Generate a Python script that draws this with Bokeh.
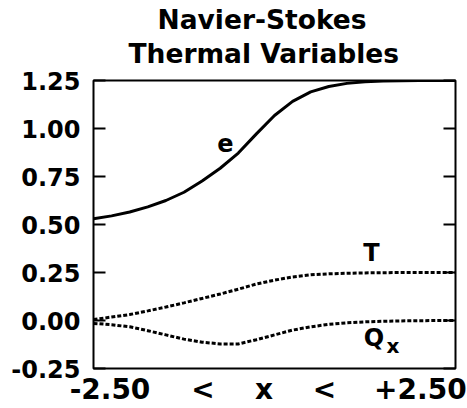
from bokeh.plotting import figure
from bokeh.models import (FixedTicker, NumeralTickFormatter, LinearAxis, Title, Range1d,
                          CustomJSTickFormatter)
from bokeh.core.properties import value
from bokeh.embed import file_html
from bokeh.resources import INLINE

# ---- data ----
xs = [-2.5, -2.25, -2.0, -1.75, -1.5, -1.25, -1.0, -0.75, -0.5, -0.25, 0.0,
      0.25, 0.5, 0.75, 1.0, 1.25, 1.5, 1.75, 2.0, 2.25, 2.5]
e_vals = [0.530, 0.545, 0.565, 0.592, 0.625, 0.668, 0.727, 0.793, 0.872, 0.972, 1.068,
          1.141, 1.191, 1.219, 1.235, 1.243, 1.247, 1.249, 1.250, 1.250, 1.250]
T_vals = [0.005, 0.018, 0.031, 0.050, 0.070, 0.092, 0.115, 0.138, 0.163, 0.190, 0.210,
          0.227, 0.238, 0.243, 0.246, 0.248, 0.249, 0.250, 0.250, 0.250, 0.250]
Qx_vals = [-0.015, -0.022, -0.033, -0.053, -0.075, -0.097, -0.113, -0.122, -0.122, -0.100, -0.075,
           -0.050, -0.033, -0.020, -0.012, -0.007, -0.004, -0.002, -0.001, 0.0, 0.0]

y_ticks = [-0.25, 0.0, 0.25, 0.5, 0.75, 1.0, 1.25]
x_label_text = ["-2.50", "<", "x", "<", "+2.50"]
x_label_pos = [-2.272, -0.988, -0.145, 0.691, 2.015]

title_lines = ["Navier-Stokes", "Thermal Variables"]

curve_label_text = ["e", "T", "Q"]
curve_label_x = [-0.677, 1.34, 1.374]
curve_label_y = [0.923, 0.350, -0.089]
sub_label_text = ["x"]
sub_label_x = [1.637]
sub_label_y = [-0.132]

FONT = "DejaVu Sans"

p = figure(width=467, height=408, output_backend="svg", toolbar_location=None,
           x_range=Range1d(-2.5, 2.5), y_range=Range1d(-0.25, 1.25),
           x_axis_location="below", y_axis_location="left")
p.min_border_left = 93
p.min_border_right = 12
p.min_border_top = 80
p.min_border_bottom = 39
p.background_fill_color = "white"
p.border_fill_color = "white"
p.outline_line_color = "black"
p.outline_line_width = 2
p.xgrid.visible = False
p.ygrid.visible = False

# title: two lines, nearest line added first
p.title = None
p.add_layout(Title(text=title_lines[1], align="left", text_font=FONT,
                   text_font_size="26.5px", text_font_style="bold", text_color="black",
                   standoff=24, offset=35), "above")
p.add_layout(Title(text=title_lines[0], align="left", text_font=FONT,
                   text_font_size="26.5px", text_font_style="bold", text_color="black",
                   standoff=-23, offset=64), "above")

# left axis with labels and inward ticks
ya = p.yaxis[0]
ya.ticker = FixedTicker(ticks=y_ticks)
ya.formatter = NumeralTickFormatter(format="0.00")
ya.major_tick_in = 12
ya.major_tick_out = 0
ya.major_tick_line_width = 2
ya.minor_tick_line_color = None
ya.axis_line_color = None
ya.major_label_standoff = 13
ya.major_label_text_font = FONT
ya.major_label_text_font_size = "24px"
ya.major_label_text_font_style = "bold"
ya.major_label_text_color = "black"

# right axis: inward ticks only
ra = LinearAxis(ticker=FixedTicker(ticks=y_ticks),
                formatter=CustomJSTickFormatter(code="return ''"))
ra.major_tick_in = 12
ra.major_tick_out = 0
ra.major_tick_line_width = 2
ra.minor_tick_line_color = None
ra.axis_line_color = None
ra.major_label_standoff = 0
p.add_layout(ra, "right")

# bottom axis: range text only
xa = p.xaxis[0]
xa.ticker = FixedTicker(ticks=x_label_pos)
xa.major_label_overrides = {pos: txt for pos, txt in zip(x_label_pos, x_label_text)}
xa.major_tick_line_color = None
xa.minor_tick_line_color = None
xa.axis_line_color = None
xa.major_tick_in = 0
xa.major_tick_out = 0
xa.major_label_standoff = 4
xa.major_label_text_font = FONT
xa.major_label_text_font_size = "28px"
xa.major_label_text_font_style = "bold"
xa.major_label_text_color = "black"

# curves
p.line(xs, e_vals, line_color="black", line_width=3)
p.line(xs, T_vals, line_color="black", line_width=3, line_dash="4 2")
p.line(xs, Qx_vals, line_color="black", line_width=3, line_dash="4 2")

p.text(x=curve_label_x, y=curve_label_y, text=curve_label_text,
       text_font=value(FONT), text_font_size="24px", text_font_style="bold",
       text_align="center", text_baseline="alphabetic", text_color="black")
p.text(x=sub_label_x, y=sub_label_y, text=sub_label_text,
       text_font=value(FONT), text_font_size="20px", text_font_style="bold",
       text_align="center", text_baseline="alphabetic", text_color="black")

open("out.html", "w").write(file_html(p, INLINE))
